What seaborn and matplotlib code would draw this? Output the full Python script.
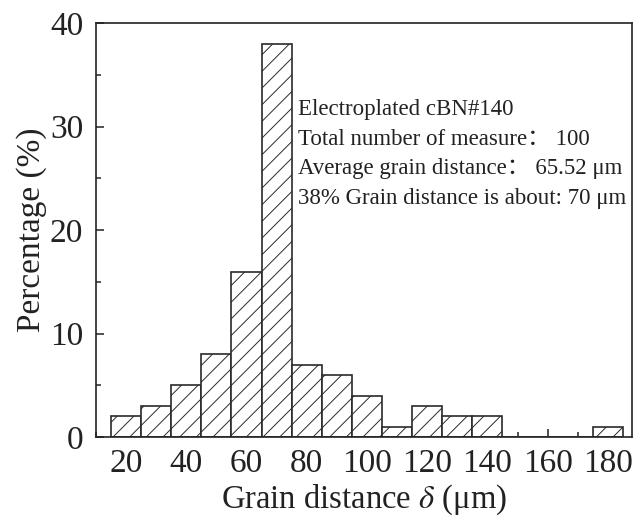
import matplotlib
matplotlib.use("Agg")
import matplotlib.pyplot as plt
import seaborn as sns
import numpy as np
from matplotlib.ticker import MultipleLocator

centers = [20, 30, 40, 50, 60, 70, 80, 90, 100, 110, 120, 130, 140, 150, 160, 170, 180]
percent = [2, 3, 5, 8, 16, 38, 7, 6, 4, 1, 3, 2, 2, 0, 0, 0, 1]
xticks = [20, 40, 60, 80, 100, 120, 140, 160, 180]
yticks = [0, 10, 20, 30, 40]
info_lines = [
    "Electroplated cBN#140",
    "Total number of measure\uff1a 100",
    "Average grain distance\uff1a 65.52 \u03bcm",
    "38% Grain distance is about: 70 \u03bcm",
]

sns.set_theme(style="ticks")
plt.rcParams["font.family"] = ["Liberation Serif", "Noto Sans CJK SC", "DejaVu Sans"]
plt.rcParams["mathtext.fontset"] = "stix"
plt.rcParams["hatch.linewidth"] = 0.7

fig = plt.figure(figsize=(6.39, 5.16), dpi=100)
ax = fig.add_axes([0.150, 0.153, 0.839, 0.802])

sns.histplot(x=centers, weights=percent, bins=list(np.arange(centers[0] - 5, centers[-1] + 6, 10)),
             ax=ax, color="white", edgecolor="black", linewidth=1.2, alpha=1)
for p in ax.patches:
    p.set_hatch("//")
    p.set_facecolor("white")
    p.set_edgecolor("#2a2a2a")

ax.set_xlim(10, 188)
ax.set_ylim(0, 40)
ax.set_xticks(xticks)
ax.set_yticks(yticks)
ax.xaxis.set_minor_locator(MultipleLocator(10))
ax.yaxis.set_minor_locator(MultipleLocator(5))
ax.tick_params(axis="both", which="major", direction="in", length=6, width=1.1,
               labelsize=24, colors="#222222", top=False, right=False)
ax.tick_params(axis="x", which="major", pad=8)
ax.tick_params(axis="y", which="major", pad=9)
ax.tick_params(axis="both", which="minor", direction="in", length=3.5, width=1.1,
               top=False, right=False)
for s in ax.spines.values():
    s.set_linewidth(1.2)
    s.set_color("#222222")
    s.set_visible(True)

ax.set_xlabel("Grain distance $\\delta$ (\u03bcm)", fontsize=23.5, color="#222222", labelpad=3)
ax.set_ylabel("Percentage (%)", fontsize=24, color="#222222", labelpad=2)

ax.text(77, 32.7, "\n".join(info_lines), fontsize=16.5, linespacing=1.55,
        va="top", ha="left", color="#222222")

fig.savefig("out.png", dpi=100)
